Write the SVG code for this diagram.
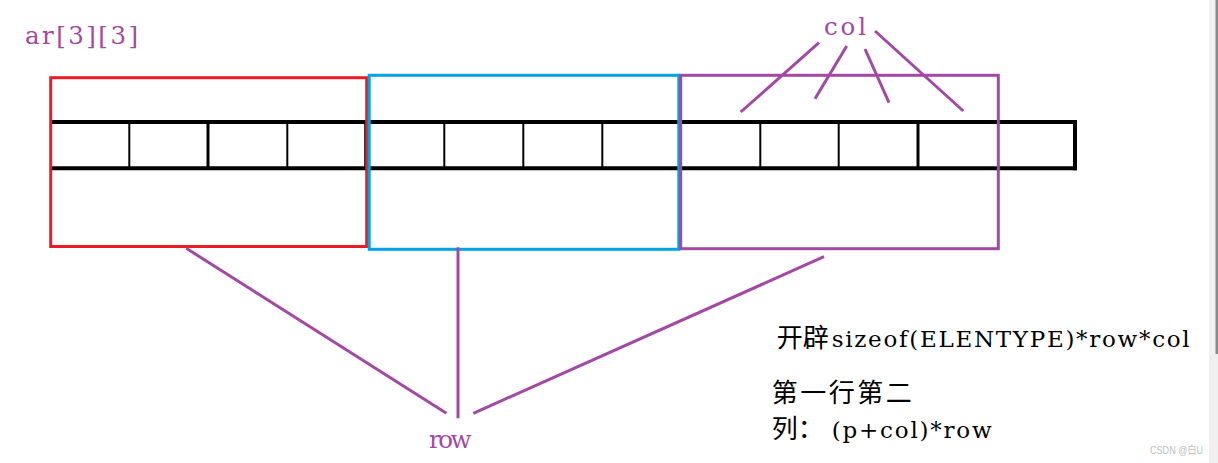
<svg xmlns="http://www.w3.org/2000/svg" width="1218" height="463" viewBox="0 0 1218 463">
<style>
.cell{stroke:#000;fill:none}
.box{fill:none;stroke-width:3}
.conn{stroke:#A349A4;stroke-width:3;fill:none}
.lbl{font-family:"DejaVu Serif","Liberation Serif",serif;font-size:24.5px;fill:#A349A4}
.txt{font-family:"DejaVu Serif","Noto Sans CJK SC",serif;font-size:23px;fill:#000}
.cjk{font-family:"Noto Sans CJK SC",sans-serif;font-size:26px}
</style>
<rect width="1218" height="463" fill="#fff"/>
<g id="scrollbar">
<rect x="1209" y="0" width="9" height="463" fill="#f0f0f0"/>
<rect x="1215.5" y="0" width="2.5" height="354" fill="#8a8a8a"/>
</g>
<g id="array">
<line class="cell" x1="50" y1="122" x2="1077" y2="122" stroke-width="4"/>
<line class="cell" x1="50" y1="168.3" x2="1077" y2="168.3" stroke-width="4"/>
<line class="cell" x1="1075" y1="120" x2="1075" y2="170.3" stroke-width="4"/>
<line class="cell" x1="129.3" y1="122" x2="129.3" y2="168" stroke-width="2"/>
<line class="cell" x1="208" y1="122" x2="208" y2="168" stroke-width="3"/>
<line class="cell" x1="287.3" y1="122" x2="287.3" y2="168" stroke-width="2"/>
<line class="cell" x1="365.7" y1="122" x2="365.7" y2="168" stroke-width="3"/>
<line class="cell" x1="444.3" y1="122" x2="444.3" y2="168" stroke-width="2"/>
<line class="cell" x1="523.3" y1="122" x2="523.3" y2="168" stroke-width="2"/>
<line class="cell" x1="602.3" y1="122" x2="602.3" y2="168" stroke-width="2"/>
<line class="cell" x1="760.3" y1="122" x2="760.3" y2="168" stroke-width="2"/>
<line class="cell" x1="838.7" y1="122" x2="838.7" y2="168" stroke-width="2"/>
<line class="cell" x1="918" y1="122" x2="918" y2="168" stroke-width="3"/>
</g>
<g id="row0"><rect class="box" x="50.7" y="77.7" width="316" height="168.8" stroke="#ED1C24"/></g>
<g id="row1"><rect class="box" x="369.2" y="75.3" width="309.6" height="174" stroke="#00A2E8"/></g>
<g id="row2"><rect class="box" x="680.7" y="75.3" width="317.6" height="173.4" stroke="#A349A4"/></g>
<g id="connectors">
<line class="conn" x1="819" y1="42.7" x2="740.7" y2="112"/>
<line class="conn" x1="846.7" y1="46" x2="815" y2="98.7"/>
<line class="conn" x1="865" y1="49" x2="889" y2="102.7"/>
<line class="conn" x1="875" y1="31" x2="963.3" y2="111"/>
<line class="conn" x1="186.3" y1="248.3" x2="446.4" y2="413.3"/>
<line class="conn" x1="458" y1="247.3" x2="458" y2="418.3"/>
<line class="conn" x1="824" y1="256.7" x2="473.3" y2="413.3"/>
</g>
<g id="labels">
<text class="lbl" x="25" y="44.3" textLength="113">ar[3][3]</text>
<text class="lbl" x="824" y="35" textLength="42">col</text>
<text class="lbl" x="429" y="447.5" textLength="42.5">row</text>
</g>
<g id="notes">
<text class="txt" y="346.7"><tspan class="cjk" x="776.7">开辟</tspan><tspan x="831.7" textLength="358">sizeof(ELENTYPE)*row*col</tspan></text>
<text class="txt" y="402"><tspan class="cjk" x="771.7" textLength="140">第一行第二</tspan></text>
<text class="txt" y="437.5"><tspan class="cjk" x="771.7">列：</tspan><tspan x="831.7" textLength="160">(p+col)*row</tspan></text>
<text x="1150" y="454" font-family="Liberation Sans,Noto Sans CJK SC,sans-serif" font-size="11" fill="#bdbdbd" textLength="53" lengthAdjust="spacingAndGlyphs">CSDN @白U</text>
</g>
</svg>
